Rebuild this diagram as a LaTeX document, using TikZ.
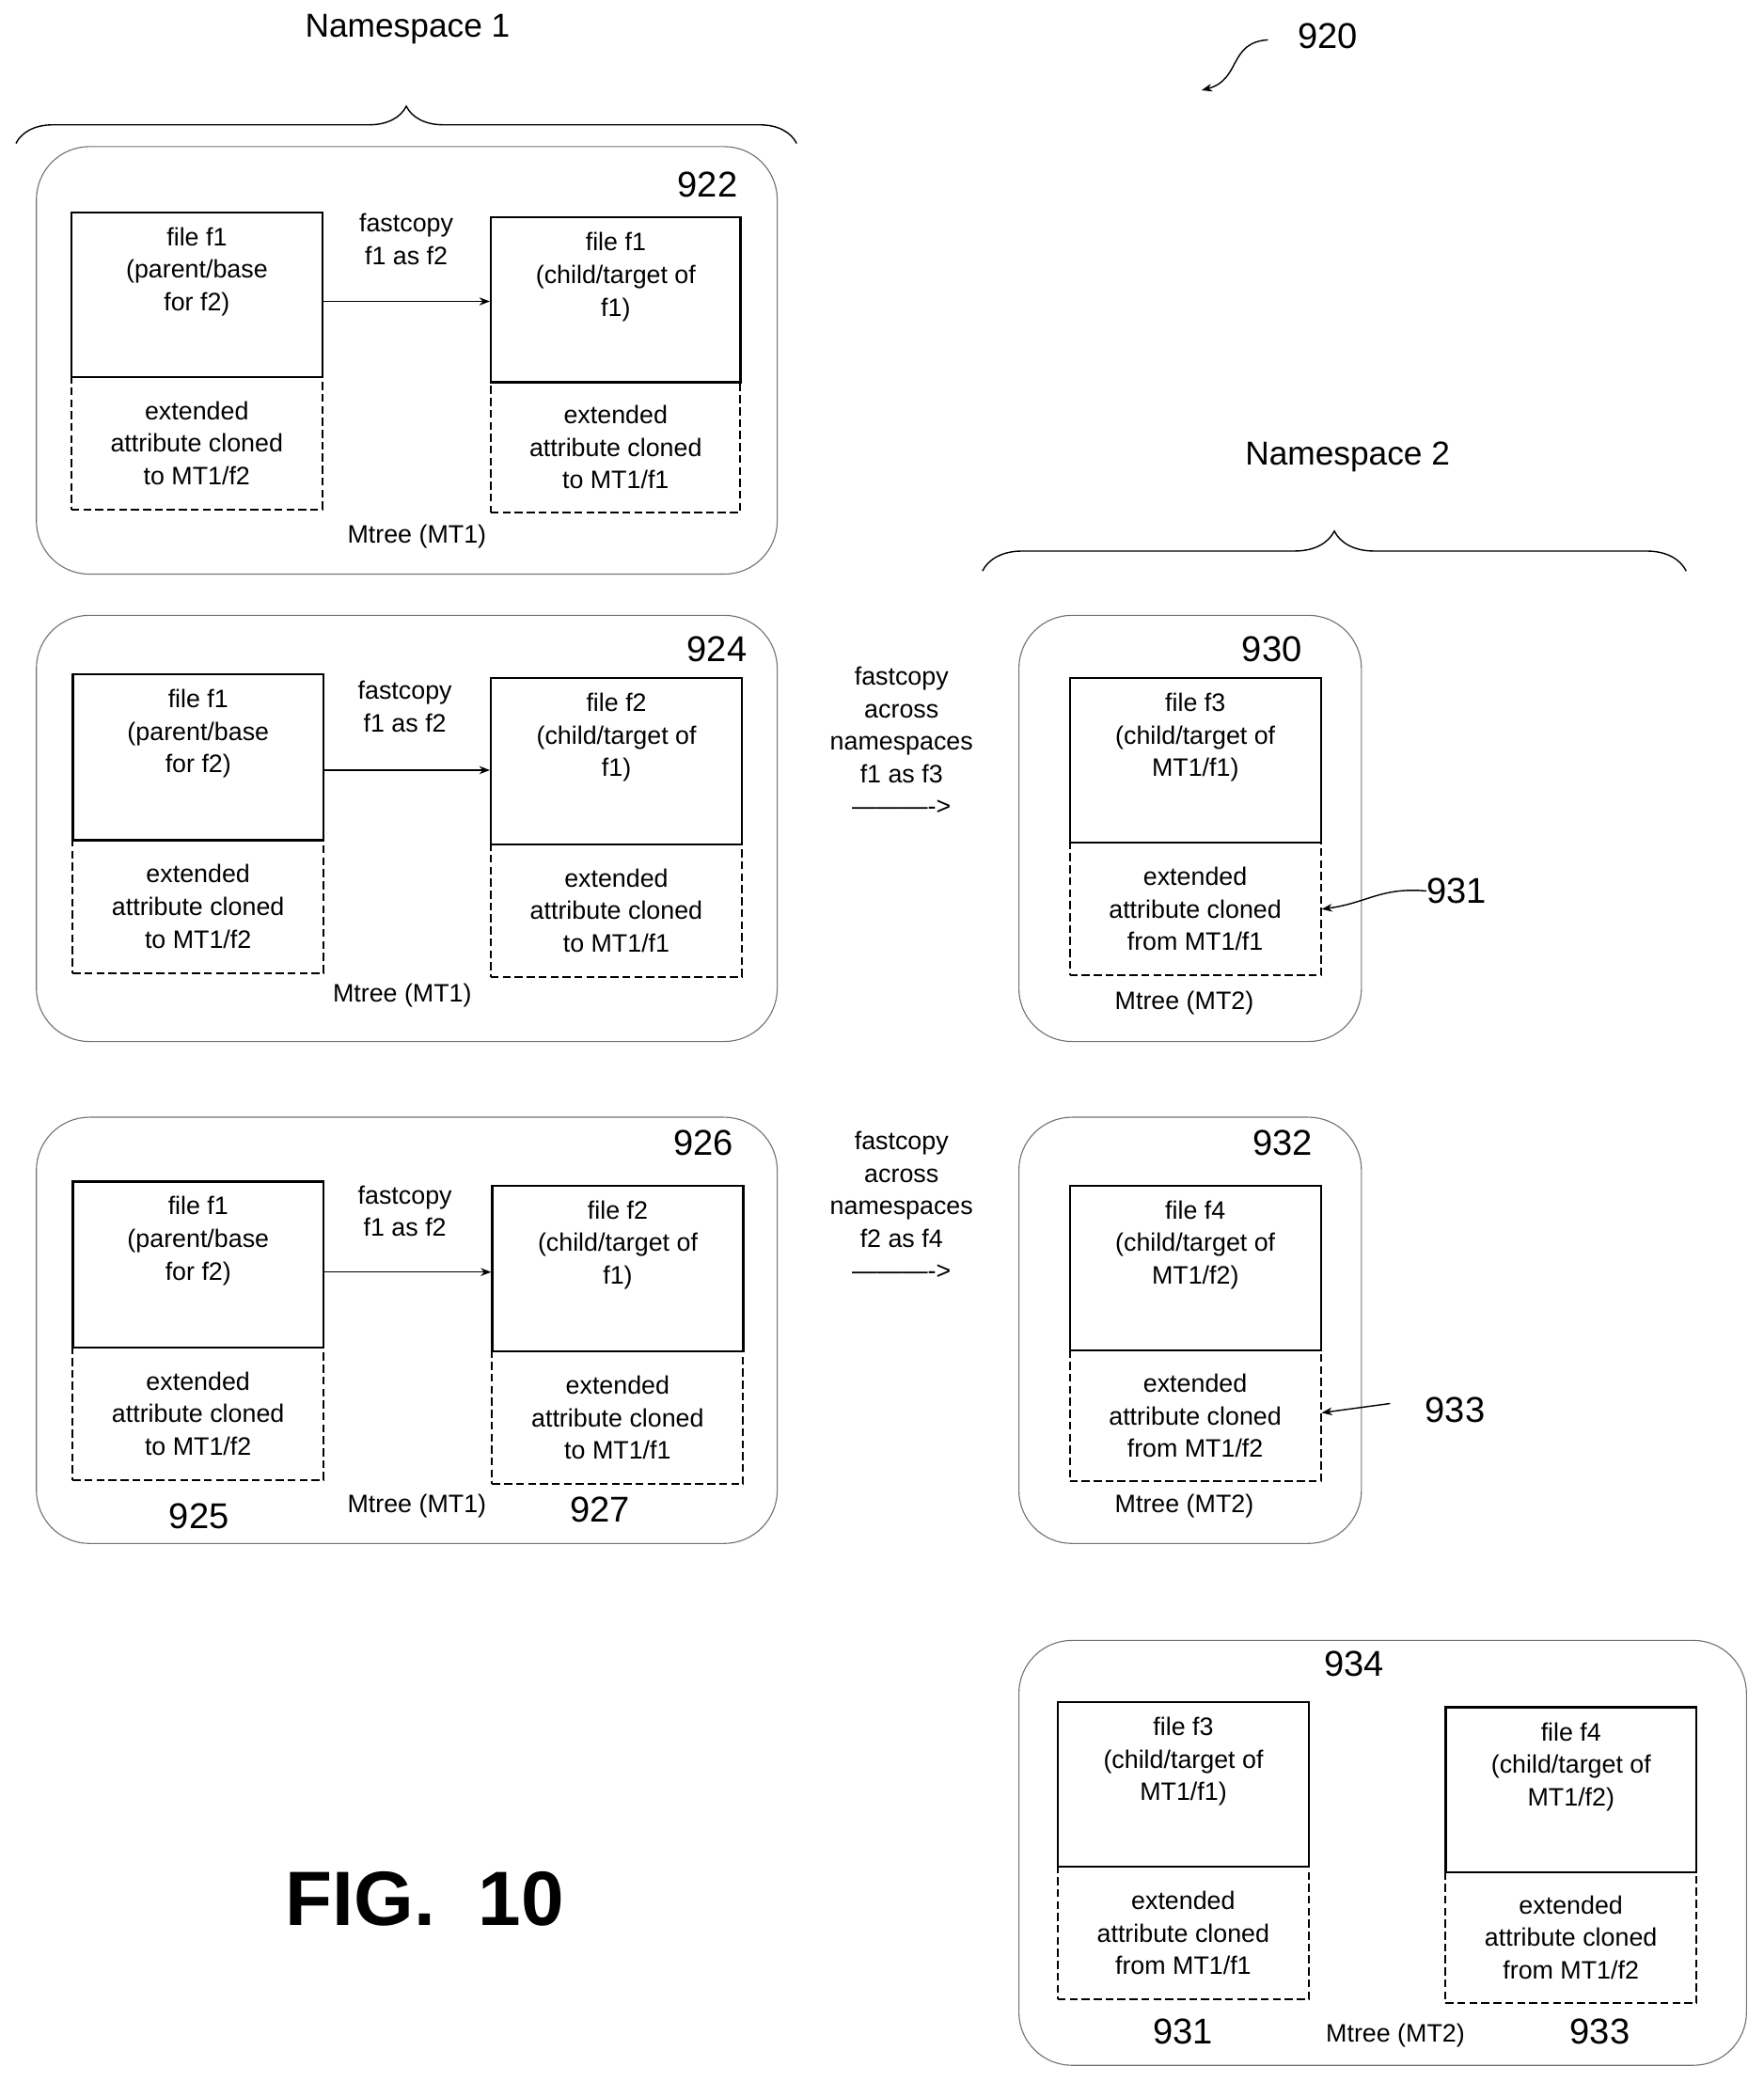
\documentclass[tikz,border=0pt]{standalone}
\usepackage{fontspec}
\setmainfont{Liberation Sans}
\usetikzlibrary{decorations.pathreplacing,arrows.meta,calc}
\begin{document}
\begin{tikzpicture}[x=1pt,y=-1pt,
  grp/.style={draw=black!55,line width=0.8pt,rounded corners=40pt},
  file/.style={draw,line width=1.6pt},
  attr/.style={draw,line width=1.4pt,dash pattern=on 6pt off 3pt},
  txt/.style={font=\fontsize{19}{24.5}\selectfont,align=center,inner sep=0},
  num/.style={font=\fontsize{27}{30}\selectfont,inner sep=0},
  arr/.style={-{Stealth[length=8pt,width=6pt]},line width=1pt}]
\useasboundingbox (0,0) rectangle (1328,1568);
% Namespace 1
\node[font=\fontsize{25}{30}\selectfont] (ns1) at (307,22) {Namespace 1};
\draw[line width=1pt,decorate,decoration={brace,amplitude=28pt}] (12,108) -- (600,108);
\node[num] (n920) at (1000,27) {920};
\coordinate (a920) at (905,68);
\draw[arr] (955,30) .. controls (925,32) and (935,60) .. (a920);
% Namespace 2
\node[font=\fontsize{25}{30}\selectfont] (ns2) at (1015,344) {Namespace 2};
\draw[line width=1pt,decorate,decoration={brace,amplitude=30pt}] (740,430) -- (1270,430);
% generic macro
\newcommand\fileunit[8]{% x1,y1,x2,y2(file bottom),y3(attr bottom),name, file text, attr text
  \node[file,minimum width={#3-#1},minimum height={#4-#2},anchor=north west,inner sep=0] (#6f) at (#1,#2) {};
  \node[txt,anchor=north] at ($(#6f.north)+(0,12)$) {#7};
  \node[attr,minimum width={#3-#1},minimum height={#5-#4},anchor=north west,txt] (#6a) at (#1,#4) {#8};
}
% 922
\node[grp,minimum width=558,minimum height=322,anchor=north west] (g922) at (27,110) {};
\node[num] at (533,139) {922};
\fileunit{53}{159}{242}{283}{383}{a1}{file f1\\(parent/base\\for f2)}{extended\\attribute cloned\\to MT1/f2}
\fileunit{369}{163}{557}{287}{385}{b1}{file f1\\(child/target of\\f1)}{extended\\attribute cloned\\to MT1/f1}
\draw[arr] (a1f.east|-0,227) -- (b1f.west|-0,227);
\node[txt] at (306,180) {fastcopy\\f1 as f2};
\node[txt] at (314,404) {Mtree (MT1)};
% 924
\node[grp,minimum width=558,minimum height=321,anchor=north west] (g924) at (27,463) {};
\node[num] at (540,489) {924};
\fileunit{54}{507}{243}{632}{732}{a2}{file f1\\(parent/base\\for f2)}{extended\\attribute cloned\\to MT1/f2}
\fileunit{369}{510}{558}{635}{735}{b2}{file f2\\(child/target of\\f1)}{extended\\attribute cloned\\to MT1/f1}
\draw[arr] (a2f.east|-0,580) -- (b2f.west|-0,580);
\node[txt] at (305,532) {fastcopy\\f1 as f2};
\node[txt] at (303,750) {Mtree (MT1)};
% 926
\node[grp,minimum width=558,minimum height=321,anchor=north west] (g926) at (27,841) {};
\node[num] at (530,861) {926};
\fileunit{54}{889}{243}{1014}{1114}{a3}{file f1\\(parent/base\\for f2)}{extended\\attribute cloned\\to MT1/f2}
\fileunit{370}{892}{559}{1017}{1117}{b3}{file f2\\(child/target of\\f1)}{extended\\attribute cloned\\to MT1/f1}
\draw[arr] (a3f.east|-0,958) -- (b3f.west|-0,958);
\node[txt] at (305,912) {fastcopy\\f1 as f2};
\node[txt] at (314,1134) {Mtree (MT1)};
\node[num] at (150,1142) {925};
\node[num] at (452,1137) {927};
% middle texts
\node[txt] at (679,558) {fastcopy\\across\\namespaces\\f1 as f3\\---------->};
\node[txt] at (679,908) {fastcopy\\across\\namespaces\\f2 as f4\\---------->};
% 930
\node[grp,minimum width=258,minimum height=321,anchor=north west] (g930) at (767,463) {};
\node[num] at (958,489) {930};
\fileunit{805}{510}{994}{634}{734}{c1}{file f3\\(child/target of\\MT1/f1)}{extended\\attribute cloned\\from MT1/f1}
\node[txt] at (892,755) {Mtree (MT2)};
\node[num] (n931) at (1097,671) {931};
\draw[arr] (n931.west) .. controls (1040,668) and (1030,680) .. (c1a.east);
% 932
\node[grp,minimum width=258,minimum height=321,anchor=north west] (g932) at (767,841) {};
\node[num] at (966,861) {932};
\fileunit{805}{892}{994}{1016}{1115}{c2}{file f4\\(child/target of\\MT1/f2)}{extended\\attribute cloned\\from MT1/f2}
\node[txt] at (892,1134) {Mtree (MT2)};
\node[num] (n933) at (1096,1062) {933};
\draw[arr] (1047,1057) -- (c2a.east|-0,1064);
% 934
\node[grp,minimum width=548,minimum height=320,anchor=north west] (g934) at (767,1235) {};
\node[num] at (1020,1253) {934};
\fileunit{796}{1281}{985}{1405}{1505}{d1}{file f3\\(child/target of\\MT1/f1)}{extended\\attribute cloned\\from MT1/f1}
\fileunit{1088}{1285}{1277}{1409}{1508}{d2}{file f4\\(child/target of\\MT1/f2)}{extended\\attribute cloned\\from MT1/f2}
\node[num] at (891,1530) {931};
\node[num] at (1205,1530) {933};
\node[txt] at (1051,1533) {Mtree (MT2)};
% fig
\node[font=\fontsize{58}{60}\selectfont\bfseries] (fig) at (320,1430) {FIG.\ \ 10};
\end{tikzpicture}
\end{document}
